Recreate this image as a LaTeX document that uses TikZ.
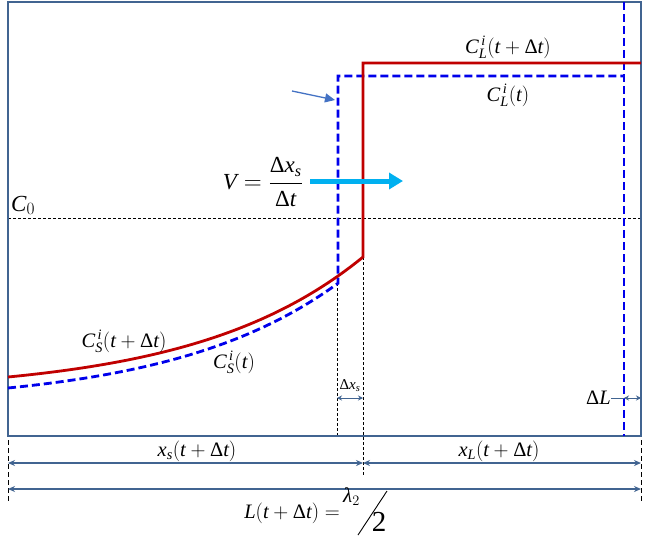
\documentclass[tikz,border=0pt]{standalone}
\usepackage{amsmath}
\usepackage{fontspec}
\setmainfont{Liberation Serif}
\usetikzlibrary{arrows.meta}
\definecolor{framecol}{RGB}{65,100,145}
\definecolor{redc}{RGB}{192,0,0}
\definecolor{bluec}{RGB}{0,0,235}
\definecolor{cyanc}{RGB}{0,176,240}
\definecolor{ptrc}{RGB}{68,114,196}
\newcommand\vv[1]{\text{\itshape #1}}
\newcommand\dd{\text{Δ}}
\begin{document}
\begin{tikzpicture}[x=1pt,y=-1pt,
  lbl/.style={inner sep=0pt, font=\fontsize{20.5}{24}\selectfont},
  biglbl/.style={inner sep=0pt, font=\fontsize{23}{27}\selectfont},
  smalllbl/.style={inner sep=0pt, font=\fontsize{15}{17}\selectfont},
  dimarr/.style={draw=framecol, line width=1.4pt, {Stealth[length=7pt,width=6pt]}-{Stealth[length=7pt,width=6pt]}},
  smallarr/.style={draw=framecol, line width=1pt, {Stealth[length=5pt,width=5pt]}-{Stealth[length=5pt,width=5pt]}},
  guide/.style={draw=black, line width=0.6pt, dash pattern=on 3pt off 2pt},
  outguide/.style={draw=black, line width=1pt, dash pattern=on 5pt off 3pt},
  frameline/.style={draw=framecol, line width=2.5pt},
  newprof/.style={draw=redc, line width=2.8pt},
  oldprof/.style={draw=bluec, line width=2.8pt, dash pattern=on 8pt off 4pt},
]
\fill[white] (0,0) rectangle (650,536);
\useasboundingbox (0,0) rectangle (650,536);

% key coordinates
\coordinate (TL) at (8,2);
\coordinate (BR) at (641,436);

% horizontal C0 line
\coordinate (c0l) at (8,218);
\coordinate (c0r) at (641,218);
\draw[guide] (c0l) -- (c0r);
\node[biglbl, anchor=base west] (c0) at (11,211) {$\vv{C}_{0}$};

% thin guide lines for dx_s
\coordinate (gL1) at (337,283);
\coordinate (gL2) at (337,436);
\coordinate (gR1) at (363,257);
\coordinate (gR2) at (363,476);
\draw[guide] (gL1) -- (gL2);
\draw[guide] (gR1) -- (gR2);

% outer guides
\coordinate (oL1) at (8,440);
\coordinate (oL2) at (8,503);
\coordinate (oR1) at (641,440);
\coordinate (oR2) at (641,503);
\draw[outguide] (oL1) -- (oL2);
\draw[outguide] (oR1) -- (oR2);

% frame
\draw[frameline] (TL) rectangle (BR);

% old profile (t)
\draw[oldprof] plot[domain=8:338, samples=60] (\x, {388-16.8*(exp(0.006*(\x-8))-1)})
  -- (338,76) -- (624,76);
\coordinate (Lt) at (624,2);
\coordinate (Lb) at (624,436);
\draw[oldprof] (Lt) -- (Lb);

% new profile (t+dt)
\draw[newprof] plot[domain=8:363, samples=60] (\x, {377-16.2*(exp(0.006*(\x-8))-1)})
  -- (363,63) -- (641,63);

% labels of profiles
\node[lbl] (cl1) at (508,47) {$\vv{C}^{\,\vv{i}}_{\vv{L}}(\vv{t}+\dd\vv{t})$};
\node[lbl] (cl0) at (508,95) {$\vv{C}^{\,\vv{i}}_{\vv{L}}(\vv{t})$};
\node[lbl] (cs1) at (124,341) {$\vv{C}^{\,\vv{i}}_{\vv{S}}(\vv{t}+\dd\vv{t})$};
\node[lbl] (cs0) at (234,362) {$\vv{C}^{\,\vv{i}}_{\vv{S}}(\vv{t})$};

% pointer arrow
\coordinate (p1) at (292,91);
\coordinate (p2) at (335,100);
\draw[ptrc, line width=1.3pt, -{Triangle[length=10pt,width=9pt]}] (p1) -- (p2);

% velocity
\node[biglbl, anchor=east] (vel) at (303,182) {$\vv{V}=\dfrac{\dd\vv{x}_{\vv{s}}}{\dd\vv{t}}$};
\coordinate (v1) at (310,181);
\coordinate (v2) at (403,181);
\draw[cyanc, line width=5pt, -{Triangle[length=14pt,width=16pt]}] (v1) -- (v2);

% dx_s
\coordinate (dxa) at (337,398);
\coordinate (dxb) at (363,398);
\draw[smallarr] (dxa) -- (dxb);
\node[smalllbl, anchor=south] (dxl) at (350,392) {$\dd\vv{x}_{\vv{s}}$};

% dL
\coordinate (dLa) at (624,398);
\coordinate (dLb) at (641,398);
\draw[smallarr] (dLa) -- (dLb);
\node[lbl, anchor=east] (dLl) at (611,398) {$\dd\vv{L}$};
\draw[framecol, line width=1pt] (dLl.east) -- (dLa);

% bottom dimensions
\coordinate (xs1) at (8,463);
\coordinate (xsm) at (363,463);
\coordinate (xs2) at (641,463);
\draw[dimarr] (xs1) -- (xsm);
\draw[dimarr] (xsm) -- (xs2);
\node[lbl] (xsl) at (197,451) {$\vv{x}_{\vv{s}}(\vv{t}+\dd\vv{t})$};
\node[lbl] (xll) at (499,451) {$\vv{x}_{\vv{L}}(\vv{t}+\dd\vv{t})$};

\coordinate (L1) at (8,489);
\coordinate (L2) at (641,489);
\draw[dimarr] (L1) -- (L2);
\node[lbl, anchor=base east] (Ll) at (340,518) {$\vv{L}(\vv{t}+\dd\vv{t})=$};
\node[inner sep=0pt, font=\fontsize{21}{24}\selectfont, anchor=west] (lam) at (343,497) {$\vv{λ}_{2}$};
\node[inner sep=0pt, font=\fontsize{29}{32}\selectfont, anchor=base] (two) at (379,531) {2};
\coordinate (sl1) at (358,535);
\coordinate (sl2) at (387,491);
\draw[black, line width=0.9pt] (sl1) -- (sl2);
\end{tikzpicture}
\end{document}
